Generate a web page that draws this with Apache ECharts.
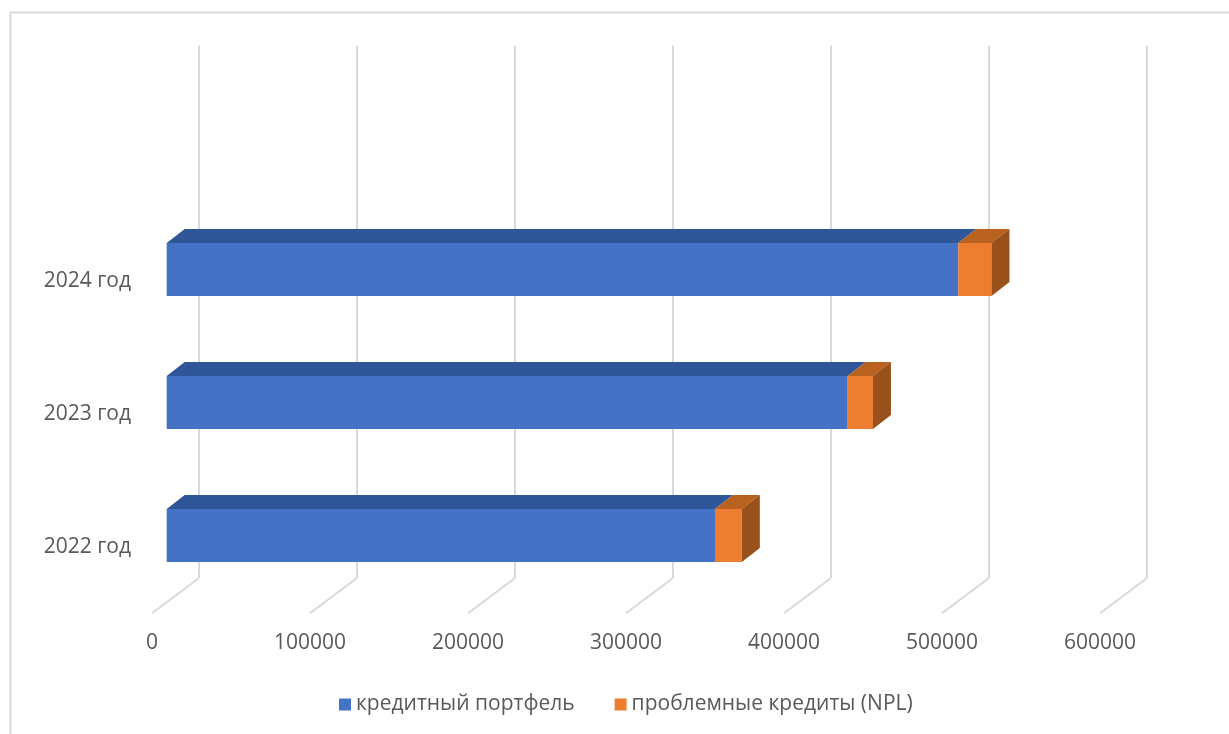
<!DOCTYPE html>
<html><head><meta charset="utf-8">
<script src="https://cdn.jsdelivr.net/npm/echarts@6/dist/echarts.min.js"></script>
<style>html,body{margin:0;padding:0;background:#fff}#c{width:1229px;height:734px}</style>
</head><body><div id="c"></div>
<script>
// ---- data ----
const categories = ['2022 год', '2023 год', '2024 год'];
const portfolio = [347000, 431000, 501000];
const npl = [17000, 16000, 21000];
const seriesNames = ['кредитный портфель', 'проблемные кредиты (NPL)'];
const xTicks = [0, 100000, 200000, 300000, 400000, 500000, 600000];
const xMin = 0, xMax = 600000, xInterval = 100000;

// ---- style ----
const FONT = '"Open Sans", sans-serif';
const TEXT = '#595959';
const GRID_LINE = '#d9d9d9';
const BLUE = { front: '#4472C4', top: '#30569A' };
const ORANGE = { front: '#ED7D31', top: '#B9611F', side: '#9A501B' };
const BAR_DX = 18, BAR_DY = 14;          // oblique depth of bars
const FLOOR_DX = -46.7, FLOOR_DY = 35;   // floor depth (back wall -> front edge)
const PLOT_W = 948;

function barFaces(api, colors, drawSide) {
  const cat = api.value(2);
  const p0 = api.coord([api.value(0), cat]);
  const p1 = api.coord([api.value(1), cat]);
  const h = api.size([0, 1])[1] * 0.4;
  const x0 = p0[0], x1 = p1[0];
  const y0 = p0[1] - h / 2, y1 = p0[1] + h / 2;
  const children = [
    { type: 'rect', shape: { x: x0, y: y0, width: x1 - x0, height: h }, style: { fill: colors.front } },
    { type: 'polygon', shape: { points: [[x0, y0], [x0 + BAR_DX, y0 - BAR_DY], [x1 + BAR_DX, y0 - BAR_DY], [x1, y0]] }, style: { fill: colors.top } }
  ];
  if (drawSide) {
    children.push({ type: 'polygon', shape: { points: [[x1, y0], [x1 + BAR_DX, y0 - BAR_DY], [x1 + BAR_DX, y1 - BAR_DY], [x1, y1]] }, style: { fill: colors.side } });
  }
  return { type: 'group', children: children };
}

const blueData = categories.map((c, i) => [0, portfolio[i], i]);
const orangeData = categories.map((c, i) => [portfolio[i], portfolio[i] + npl[i], i]);

const hiddenValue = (idx) => ({
  type: 'value', gridIndex: idx, min: xMin, max: xMax, interval: xInterval,
  axisLine: { show: false }, axisTick: { show: false }, axisLabel: { show: false }, splitLine: { show: false }
});

const chart = echarts.init(document.getElementById('c'), null, { renderer: 'canvas' });
chart.setOption({
  animation: false,
  backgroundColor: '#ffffff',
  textStyle: { fontFamily: FONT },
  graphic: [{
    type: 'rect', left: 8, top: 10, z: -10,
    shape: { x: 0, y: 0, width: 1240, height: 740 },
    style: { fill: 'none', stroke: GRID_LINE, lineWidth: 2 }
  }],
  grid: [
    { left: 166.7, top: 203, width: PLOT_W, height: 399 },     // bar plane
    { left: 198.7, top: 45.7, width: PLOT_W, height: 532.6 },  // back wall
    { left: 152, top: 215, width: PLOT_W, height: 398 }        // front edge (labels)
  ],
  xAxis: [
    hiddenValue(0),
    Object.assign(hiddenValue(1), { splitLine: { show: true, lineStyle: { color: GRID_LINE, width: 2 } } }),
    Object.assign(hiddenValue(2), {
      axisLabel: { show: true, color: TEXT, fontSize: 21, fontFamily: FONT, margin: 20, lineHeight: 20,
        formatter: function (v) { return String(v); } }
    })
  ],
  yAxis: [
    { type: 'category', gridIndex: 0, data: categories, show: false },
    { type: 'value', gridIndex: 1, min: 0, max: 1, show: false },
    {
      type: 'category', gridIndex: 2, data: categories,
      axisLine: { show: false }, axisTick: { show: false }, splitLine: { show: false },
      axisLabel: { color: TEXT, fontSize: 21, fontFamily: FONT, margin: 21 }
    }
  ],
  legend: {
    left: 334, top: 689, itemWidth: 12, itemHeight: 12, itemGap: 40, icon: 'rect',
    textStyle: { color: TEXT, fontSize: 21, fontFamily: FONT },
    data: seriesNames
  },
  series: [
    {
      type: 'custom', name: 'floor', xAxisIndex: 1, yAxisIndex: 1, z: 1, silent: true,
      data: xTicks.map(v => [v, 0]),
      encode: { x: 0, y: 1 },
      renderItem: function (params, api) {
        const x = api.coord([api.value(0), 0])[0];
        const yb = params.coordSys.y + params.coordSys.height;
        return { type: 'line', shape: { x1: x, y1: yb, x2: x + FLOOR_DX, y2: yb + FLOOR_DY }, style: { stroke: GRID_LINE, lineWidth: 2 } };
      }
    },
    {
      type: 'custom', name: seriesNames[0], xAxisIndex: 0, yAxisIndex: 0, z: 5,
      itemStyle: { color: BLUE.front },
      data: blueData, encode: { x: [0, 1], y: 2 },
      renderItem: function (params, api) { return barFaces(api, BLUE, false); }
    },
    {
      type: 'custom', name: seriesNames[1], xAxisIndex: 0, yAxisIndex: 0, z: 6,
      itemStyle: { color: ORANGE.front },
      data: orangeData, encode: { x: [0, 1], y: 2 },
      renderItem: function (params, api) { return barFaces(api, ORANGE, true); }
    }
  ]
});
</script></body></html>
